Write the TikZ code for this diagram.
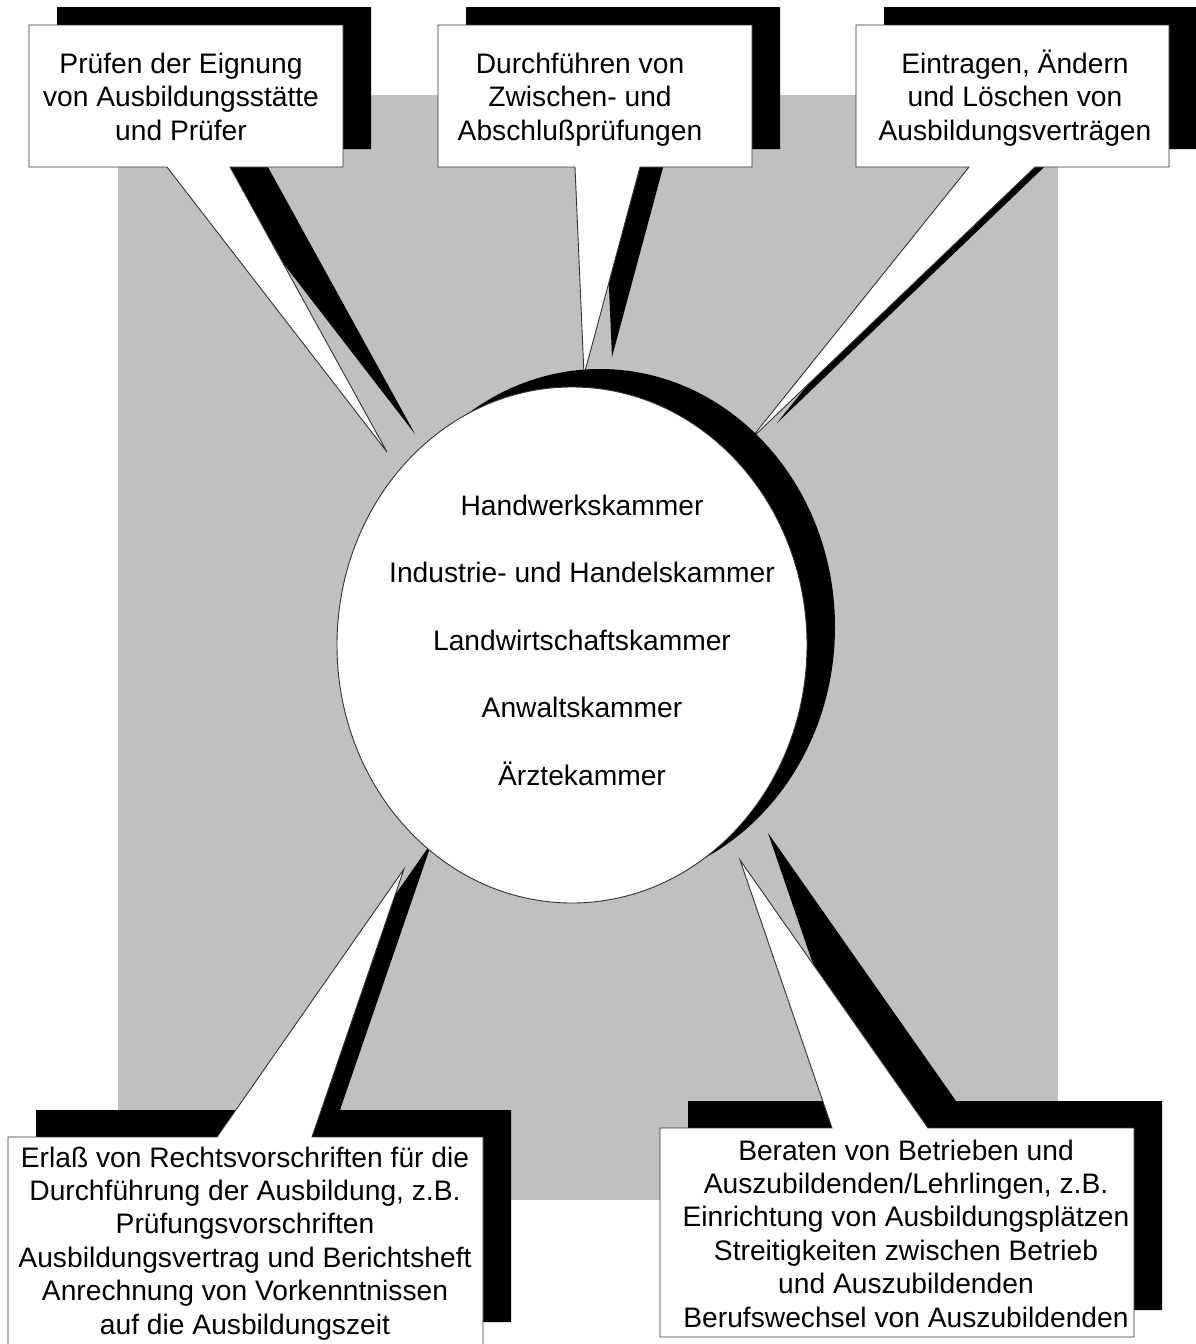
\documentclass[tikz,border=0pt]{standalone}
\usepackage{fontspec}
\setmainfont{Liberation Sans}
\definecolor{bggray}{RGB}{192,192,192}
\begin{document}
\begin{tikzpicture}[x=1pt,y=-1pt,
  shadowfill/.style={fill=black,draw=none},
  whitefill/.style={fill=white,draw=black!80,line width=0.9pt,line join=miter},
  lbl/.style={align=center,anchor=base,inner sep=0pt,font=\fontsize{28.2}{33.4}\selectfont},
  circlbl/.style={align=center,anchor=base,inner sep=0pt,font=\fontsize{28.2}{67.5}\selectfont}]
\useasboundingbox (0,0) rectangle (1195,1344);
\fill[bggray] (118,95) rectangle (1058,1200);
% callout shapes (box + tail)
\def\calloutA{(29,25) -- (343,25) -- (343,167) -- (230,167) -- (387,452) -- (167,167) -- (29,167) -- cycle}
\def\calloutB{(438,25) -- (752,25) -- (752,167) -- (640,167) -- (584,375) -- (575,167) -- (438,167) -- cycle}
\def\calloutC{(856,25) -- (1169,25) -- (1169,167) -- (1035,167) -- (749,441) -- (969,167) -- (856,167) -- cycle}
\def\calloutD{(8,1137) -- (217,1137) -- (404,869) -- (312,1137) -- (483,1137) -- (483,1349) -- (8,1349) -- cycle}
\def\calloutE{(660,1128) -- (832,1128) -- (740,860) -- (928,1128) -- (1134,1128) -- (1134,1337) -- (660,1337) -- cycle}
% shadows
\fill[shadowfill,shift={(28,-18)}] \calloutA;
\fill[shadowfill,shift={(28,-18)}] \calloutB;
\fill[shadowfill,shift={(28,-18)}] \calloutC;
\fill[shadowfill,shift={(28,-27)}] \calloutD;
\fill[shadowfill,shift={(28,-27)}] \calloutE;
% white callouts
\filldraw[whitefill] \calloutA;
\filldraw[whitefill] \calloutB;
\filldraw[whitefill] \calloutC;
\filldraw[whitefill] \calloutD;
\filldraw[whitefill] \calloutE;
% central circle with shadow
\fill[shadowfill] (600,627) ellipse [x radius=235pt, y radius=258pt];
\filldraw[whitefill] (572,645) ellipse [x radius=235pt, y radius=258pt];
% texts (anchor = baseline of last line)
\node[lbl] (tA) at (181,140) {Prüfen der Eignung\\von Ausbildungsstätte\\und Prüfer};
\node[lbl] (tB) at (580,140) {Durchführen von\\Zwischen- und\\Abschlußprüfungen};
\node[lbl] (tC) at (1015,140) {Eintragen, Ändern\\und Löschen von\\Ausbildungsverträgen};
\node[lbl] (tD) at (245,1334) {Erlaß von Rechtsvorschriften für die\\Durchführung der Ausbildung, z.B.\\Prüfungsvorschriften\\Ausbildungsvertrag und Berichtsheft\\Anrechnung von Vorkenntnissen\\auf die Ausbildungszeit};
\node[lbl] (tE) at (906,1327) {Beraten von Betrieben und\\Auszubildenden/Lehrlingen, z.B.\\Einrichtung von Ausbildungsplätzen\\Streitigkeiten zwischen Betrieb\\und Auszubildenden\\Berufswechsel von Auszubildenden};
\node[circlbl] (kammern) at (582,785) {Handwerkskammer\\Industrie- und Handelskammer\\Landwirtschaftskammer\\Anwaltskammer\\Ärztekammer};
\end{tikzpicture}
\end{document}
